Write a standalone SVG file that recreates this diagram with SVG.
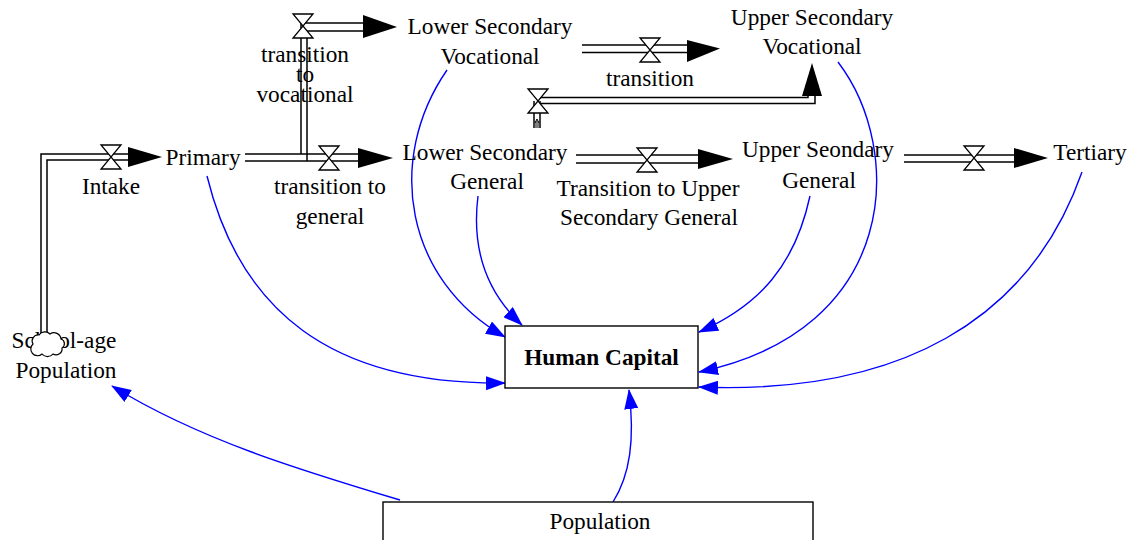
<svg xmlns="http://www.w3.org/2000/svg" width="1136" height="540" viewBox="0 0 1136 540">
<style>
text{font-family:"Liberation Serif","Times New Roman",serif;font-size:23.3px;fill:#000;text-anchor:middle}
.b{font-weight:bold}
.pipe{fill:none;stroke:#000;stroke-width:1.5}
.valve{fill:#fff;stroke:#000;stroke-width:1.3}
.head{fill:#000}
.link{fill:none;stroke:#0000ff;stroke-width:1.4;marker-end:url(#ba)}
.box{fill:#fff;stroke:#000;stroke-width:1.4}
</style>
<defs>
<marker id="ba" viewBox="0 0 20 14" refX="19" refY="7" markerWidth="20" markerHeight="14" markerUnits="userSpaceOnUse" orient="auto">
<path d="M0,0 L20,7 L0,14 Z" fill="#0000ff"/>
</marker>
<path id="v" d="M-10,-12 H10 L-10,12 H10 Z"/>
</defs>

<g id="connectors">
<path class="link" d="M207,176 C240,310 330,385 505,383"/>
<path class="link" d="M447,70 C385,160 405,280 505,337"/>
<path class="link" d="M478,196 C470,260 495,300 522,325"/>
<path class="link" d="M810,196 C795,265 760,305 699,332"/>
<path class="link" d="M838,62 C905,150 900,330 699,372"/>
<path class="link" d="M1082,172 C1030,320 900,395 699,387"/>
<path class="link" d="M613,502 C630,475 635,440 629,390"/>
<path class="link" d="M400,500 C300,470 200,440 112,386"/>
</g>

<g id="flow-intake">
<path class="pipe" d="M41,335 V154 H128"/>
<path class="pipe" d="M47,335 V160 H128"/>
<polygon class="head" points="128,147 162,157 128,167"/>
<use href="#v" class="valve" x="111" y="157"/>
<text x="111" y="194">Intake</text>
</g>

<g id="flow-general">
<path class="pipe" d="M245,154 H358"/>
<path class="pipe" d="M245,161 H358"/>
<polygon class="head" points="358,148 393,158 358,168"/>
<use href="#v" class="valve" x="329" y="158"/>
<text x="330" y="194">transition to</text>
<text x="330" y="224">general</text>
</g>

<g id="flow-vocational">
<path class="pipe" d="M301,154 V23 H363"/>
<path class="pipe" d="M307,161 V31 H363"/>
<polygon class="head" points="363,15 397,27 363,38"/>
<use href="#v" class="valve" x="303" y="26"/>
<text x="305" y="62">transition</text>
<text x="305" y="82">to</text>
<text x="305" y="102">vocational</text>
</g>

<g id="flow-transition">
<path class="pipe" d="M582,45 H687"/>
<path class="pipe" d="M582,52.5 H687"/>
<polygon class="head" points="687,40 720,48.5 687,62"/>
<use href="#v" class="valve" x="650" y="50"/>
<text x="650" y="86">transition</text>
</g>

<g id="flow-general-to-usv">
<path class="pipe" d="M538,97.5 H808 V96"/>
<path class="pipe" d="M538,103.5 H815 V96"/>
<polygon class="head" points="802,96 812,63 822,96"/>
<path class="pipe" d="M534,101 V128"/>
<path class="pipe" d="M540,101 V128"/>
<path fill="none" stroke="#000" stroke-width="1" d="M536,128 V121 M538,128 V121 M535,123 L537,119 L539,123"/>
<use href="#v" class="valve" x="538" y="101"/>
</g>

<g id="flow-upper-general">
<path class="pipe" d="M576,155 H698"/>
<path class="pipe" d="M576,163 H698"/>
<polygon class="head" points="698,149 733,159 698,169"/>
<use href="#v" class="valve" x="647" y="160"/>
<text x="648" y="196">Transition to Upper</text>
<text x="649" y="225">Secondary General</text>
</g>

<g id="flow-tertiary">
<path class="pipe" d="M904,155 H1014"/>
<path class="pipe" d="M904,162 H1014"/>
<polygon class="head" points="1014,148 1048,158 1014,168"/>
<use href="#v" class="valve" x="974" y="158"/>
</g>

<g id="primary"><text x="203" y="165">Primary</text></g>
<g id="lower-secondary-vocational"><text x="490" y="34">Lower Secondary</text><text x="490" y="64">Vocational</text></g>
<g id="upper-secondary-vocational"><text x="812" y="25">Upper Secondary</text><text x="812" y="54">Vocational</text></g>
<g id="lower-secondary-general"><text x="485" y="160">Lower Secondary</text><text x="487" y="189">General</text></g>
<g id="upper-secondary-general"><text x="818" y="157">Upper Seondary</text><text x="819" y="188">General</text></g>
<g id="tertiary"><text x="1090" y="160">Tertiary</text></g>

<g id="school-age-population">
<text x="64" y="348">School-age</text>
<text x="66" y="378">Population</text>
<path fill="#fff" stroke="#000" stroke-width="1.2" d="M33,344 a6,6 0 0 1 6,-9 a7,7 0 0 1 11,-1 a7,7 0 0 1 11,5 a5,5 0 0 1 1,9 a6,6 0 0 1 -9,6 a7,7 0 0 1 -11,0 a6,6 0 0 1 -9,-10 Z"/>
</g>

<g id="human-capital">
<rect class="box" x="505" y="326" width="193" height="62"/>
<text class="b" x="601.5" y="365">Human Capital</text>
</g>

<g id="population">
<rect class="box" x="383" y="502" width="430" height="60"/>
<text x="600" y="529">Population</text>
</g>
</svg>
